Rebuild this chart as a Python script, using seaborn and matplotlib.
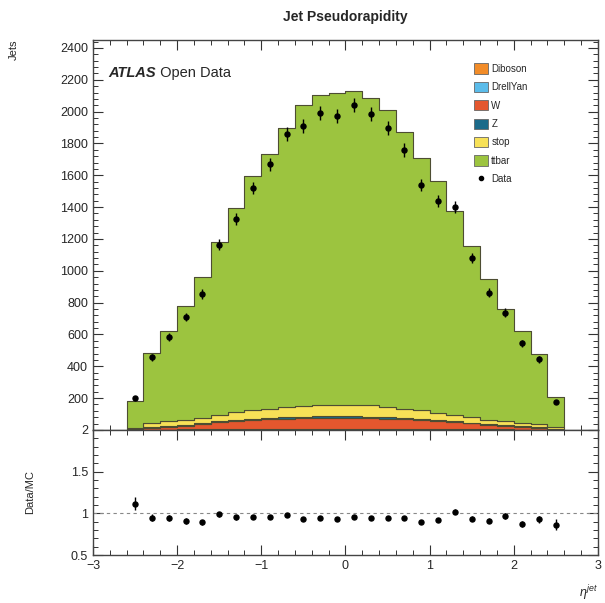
import numpy as np
import pandas as pd
import matplotlib
matplotlib.use("Agg")
import matplotlib.pyplot as plt
from matplotlib.ticker import MultipleLocator
from matplotlib.patches import Patch
from matplotlib.lines import Line2D
import seaborn as sns

# ---------------- data ----------------
bin_edges = [-2.6, -2.4, -2.2, -2.0, -1.8, -1.6, -1.4, -1.2, -1.0, -0.8, -0.6, -0.4, -0.2, 0.0,
             0.2, 0.4, 0.6, 0.8, 1.0, 1.2, 1.4, 1.6, 1.8, 2.0, 2.2, 2.4, 2.6]
bin_centers = [-2.5, -2.3, -2.1, -1.9, -1.7, -1.5, -1.3, -1.1, -0.9, -0.7, -0.5, -0.3, -0.1,
               0.1, 0.3, 0.5, 0.7, 0.9, 1.1, 1.3, 1.5, 1.7, 1.9, 2.1, 2.3, 2.5]

diboson = [0.5, 1, 1.5, 2, 2, 2.5, 3, 3, 3.5, 3.5, 4, 4, 4,
           4, 4, 4, 3.5, 3.5, 3, 3, 2.5, 2, 2, 1.5, 1, 0.5]
drellyan = [0.5, 1, 1, 1.5, 2, 2, 2.5, 3, 3, 3, 3.5, 3.5, 3.5,
            3.5, 3.5, 3.5, 3, 3, 3, 2.5, 2, 2, 1.5, 1, 1, 0.5]
w_boson = [4, 11, 18, 24, 32, 45, 50, 57, 60, 64, 66, 68, 69,
           68, 67, 64, 60, 56, 50, 44, 36, 30, 24, 18, 11, 4]
z_boson = [1, 3, 4, 5, 6, 7, 8, 8, 9, 9, 9, 9, 9,
           9, 9, 9, 9, 8, 8, 7, 6, 5, 5, 4, 3, 1]
stop = [9, 28, 32, 33, 36, 40, 50, 53, 58, 65, 68, 70, 70,
        70, 72, 65, 58, 53, 45, 40, 32, 26, 23, 22, 20, 11]
ttbar = [166, 437, 565, 714, 882, 1083, 1282, 1470, 1601, 1750, 1891, 1950, 1964,
         1975, 1933, 1863, 1739, 1582, 1458, 1277, 1075, 883, 705, 577, 441, 187]
data = [202, 456, 586, 710, 855, 1164, 1327, 1521, 1668, 1861, 1909, 1993, 1972,
        2042, 1983, 1899, 1758, 1538, 1441, 1399, 1080, 863, 737, 544, 443, 176]

process_names = ["Diboson", "DrellYan", "W", "Z", "stop", "ttbar"]
process_values = [diboson, drellyan, w_boson, z_boson, stop, ttbar]
process_colors = ["#f28c28", "#5bbcea", "#e4572e", "#1b6a8a", "#f7e157", "#9cc43f"]

main_yticks = [200, 400, 600, 800, 1000, 1200, 1400, 1600, 1800, 2000, 2200, 2400]
ratio_yticks = [0.5, 1, 1.5, 2]
ratio_yticklabels = ["0.5", "1", "1.5", "2"]

# ---------------- build frame ----------------
df = pd.DataFrame({
    "eta": np.tile(bin_centers, len(process_names)),
    "process": np.repeat(process_names, len(bin_centers)),
    "events": np.concatenate([np.asarray(v, float) for v in process_values]),
})
total_mc = np.sum([np.asarray(v, float) for v in process_values], axis=0)
data_arr = np.asarray(data, float)
ratio = data_arr / total_mc
ratio_err = np.sqrt(data_arr) / total_mc

sns.set_theme(style="ticks")
plt.rcParams['font.family'] = ['Liberation Sans', 'DejaVu Sans']
plt.rcParams['mathtext.fontset'] = 'custom'
plt.rcParams['mathtext.rm'] = 'Liberation Sans'
plt.rcParams['mathtext.it'] = 'Liberation Sans:italic'

fig = plt.figure(figsize=(6.05, 6.03), dpi=100)
ax = fig.add_axes([0.1537, 0.287, 0.8347, 0.6467])
axr = fig.add_axes([0.1537, 0.0796, 0.8347, 0.2074], sharex=ax)

palette = dict(zip(process_names, process_colors))
sns.histplot(data=df, x="eta", weights="events", hue="process",
             hue_order=process_names[::-1], palette=palette,
             multiple="stack", bins=bin_edges, element="step", fill=True,
             alpha=1, linewidth=0.8, edgecolor="#4d4d33", legend=False, ax=ax)

ax.errorbar(bin_centers, data_arr, yerr=np.sqrt(data_arr), fmt='o', color='black',
            ms=3.6, elinewidth=1.0, capsize=0, zorder=5)

ax.set_xlim(-3, 3)
ax.set_ylim(0, 2450)
ax.set_xlabel("")
ax.set_ylabel("Jets", loc="top", fontsize=8, labelpad=30)
ax.set_yticks(main_yticks)
ax.yaxis.set_minor_locator(MultipleLocator(40))
ax.xaxis.set_major_locator(MultipleLocator(1))
ax.xaxis.set_minor_locator(MultipleLocator(0.2))
ax.tick_params(axis='x', labelbottom=False)
for a in (ax, axr):
    a.tick_params(which='both', direction='in', top=True, right=True, labelsize=9,
                  color='#333333')
    a.tick_params(which='major', length=7, width=0.8)
    a.tick_params(which='minor', length=3.5, width=0.7)
    for s in a.spines.values():
        s.set_linewidth(1.0)
        s.set_color('#444444')

# ATLAS label
t = ax.text(0.03, 0.905, "ATLAS", transform=ax.transAxes, fontsize=10.5,
            fontweight='bold', fontstyle='italic', va='baseline')
ax.annotate(" Open Data", xycoords=t, xy=(1, 0), fontsize=10.5, va='bottom')

# legend
handles = [Patch(facecolor=c, edgecolor='#666666', linewidth=0.6, label=n)
           for n, c in zip(process_names, process_colors)]
handles.append(Line2D([], [], marker='o', ls='', color='black', ms=3, label='Data'))
ax.legend(handles=handles, loc='upper left', bbox_to_anchor=(0.755, 0.94),
          frameon=False, fontsize=7, handlelength=1.4, handleheight=1.25,
          labelspacing=0.82, handletextpad=0.35, borderaxespad=0, borderpad=0)

# ratio panel
axr.axhline(1.0, color='#888888', lw=0.8, ls=(0, (3, 3)))
axr.errorbar(bin_centers, ratio, yerr=ratio_err, fmt='o', color='black',
             ms=3.6, elinewidth=1.0, capsize=0, zorder=5)
axr.set_ylim(0.5, 2.0)
axr.set_yticks(ratio_yticks)
axr.set_yticklabels(ratio_yticklabels)
axr.yaxis.set_minor_locator(MultipleLocator(0.1))
axr.set_ylabel("Data/MC", fontsize=8, labelpad=26)
axr.set_xlabel(r"$\eta^{jet}$", loc="right", fontsize=9, labelpad=8)

fig.text(0.571, 0.972, "Jet Pseudorapidity", ha='center', va='center',
         fontsize=10, fontweight='bold')

fig.savefig("out.png", dpi=100)
